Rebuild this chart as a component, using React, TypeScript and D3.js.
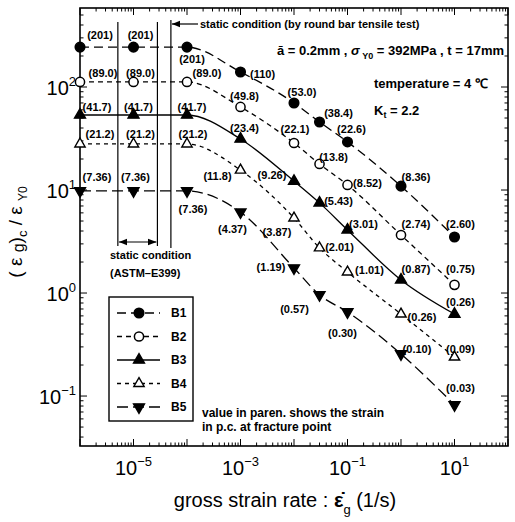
import * as d3 from "d3";
import React from "react";

// strain rates (1/s) at which each specimen series was tested
const rates = [1e-6, 1e-5, 1e-4, 1e-3, 1e-2, 3e-2, 1e-1, 1, 10];

const seriesNames = ["B1", "B2", "B3", "B4", "B5"];

// (eg)c / eY0
const b1 = [244, 244, 244, 140, 70, 45.7, 29.3, 10.9, 3.5];
const b2 = [112, 112, 112, 64, 28.6, 17.9, 11.2, 3.66, 1.2];
const b3 = [53.5, 53.5, 53.5, 31.3, 12.2, 7.5, 4.1, 1.34, 0.625];
const b4 = [28.0, 28.0, 28.0, 15.6, 5.35, 2.74, 1.6, 0.625, 0.239];
const b5 = [9.8, 9.8, 9.8, 6.1, 1.75, 0.96, 0.655, 0.256, 0.082];

// strain in p.c. at fracture point (value in paren.)
const b1Strain = ["201", "201", "201", "110", "53.0", "38.4", "22.6", "8.36", "2.60"];
const b2Strain = ["89.0", "89.0", "89.0", "49.8", "22.1", "13.8", "8.52", "2.74", "0.75"];
const b3Strain = ["41.7", "41.7", "41.7", "23.4", "9.26", "5.43", "3.01", "0.87", "0.26"];
const b4Strain = ["21.2", "21.2", "21.2", "11.8", "3.87", "2.01", "1.01", "0.26", "0.09"];
const b5Strain = ["7.36", "7.36", "7.36", "4.37", "1.19", "0.57", "0.30", "0.10", "0.03"];

const xTickExps = [-5, -3, -1, 1];
const yTickExps = [-1, 0, 1, 2];

// static condition markers (strain rate)
const astmRange = [5.1e-6, 2.8e-5];
const roundBarRate = 5e-5;

const values = [b1, b2, b3, b4, b5];
const strains = [b1Strain, b2Strain, b3Strain, b4Strain, b5Strain];

// layout: label nudges in px relative to the marker
const labelOffsets = [
  [[20, -12], [7, -12], [5, 12], [22, 2], [8, -11], [19, -9], [4, -13], [15, -9], [6, -13]],
  [[23, -9], [7, -9], [20, -9], [4, -11], [1, -14], [14, -7], [20, -2], [15, -11], [6, -16]],
  [[17, -8], [5, -8], [5, -8], [4, -11], [-22, -6], [19, -2], [16, -6], [15, -11], [6, -12]],
  [[20, -10], [7, -10], [6, -10], [-23, 6], [-17, 14], [20, -1], [22, -2], [21, 3], [6, -8]],
  [[17, -14], [2, -14], [6, 18], [-8, 17], [-23, -1], [-25, 14], [-5, 21], [16, -5], [6, -17]],
];

const styles = [
  { dash: "9,5", shape: "circle", filled: true },
  { dash: "5,4", shape: "circle", filled: false },
  { dash: "", shape: "up", filled: true },
  { dash: "4,4", shape: "up", filled: false },
  { dash: "11,5", shape: "down", filled: true },
];

const left = 80, right = 508, top = 8, bottom = 446;
const font = "'Liberation Sans', Arial, Helvetica, sans-serif";

function Marker({ x, y, st }: { x: number; y: number; st: any }) {
  const fill = st.filled ? "black" : "white";
  if (st.shape === "circle") {
    return <circle cx={x} cy={y} r={st.filled ? 4.8 : 4.6} fill={fill} stroke="black" strokeWidth={1.5} />;
  }
  const path = d3.symbol(d3.symbolTriangle, st.filled ? 52 : 46)() as string;
  const rot = st.shape === "down" ? " rotate(180)" : "";
  return <path d={path} transform={`translate(${x},${y})${rot}`} fill={fill} stroke="black" strokeWidth={1.4} />;
}

export default function App() {
  const x = d3.scaleLog().domain([1e-6, 1e2]).range([left, right]);
  const y = d3.scaleLog().domain([Math.pow(10, -1.485), Math.pow(10, 2.767)]).range([bottom, top]);

  const isMajor = (t: number) => Math.abs(Math.log10(t) - Math.round(Math.log10(t))) < 1e-6;

  const line = d3.line<[number, number]>()
    .x(d => d[0])
    .y(d => d[1])
    .curve(d3.curveMonotoneX);

  const xa = x(astmRange[0]), xb = x(astmRange[1]), xr = x(roundBarRate);

  return (
    <svg width={515} height={522} style={{ position: "absolute", left: 0, top: 0, background: "white" }} fontFamily={font}>
      <defs>
        <marker id="arr" viewBox="0 0 10 10" refX="10" refY="5" markerWidth="7" markerHeight="7" orient="auto-start-reverse">
          <path d="M0,1 L10,5 L0,9 z" fill="black" />
        </marker>
      </defs>

      {/* ticks on all four sides, pointing in */}
      {x.ticks().map((t, i) => {
        const len = isMajor(t) ? 7 : 3.5;
        return (
          <g key={"xt" + i} stroke="black" strokeWidth={1}>
            <line x1={x(t)} x2={x(t)} y1={bottom} y2={bottom - len} />
            <line x1={x(t)} x2={x(t)} y1={top} y2={top + len} />
          </g>
        );
      })}
      {y.ticks().map((t, i) => {
        const len = isMajor(t) ? 7 : 3.5;
        return (
          <g key={"yt" + i} stroke="black" strokeWidth={1}>
            <line x1={left} x2={left + len} y1={y(t)} y2={y(t)} />
            <line x1={right} x2={right - len} y1={y(t)} y2={y(t)} />
          </g>
        );
      })}
      <rect x={left} y={top} width={right - left} height={bottom - top} fill="none" stroke="black" strokeWidth={1.6} />

      {xTickExps.map(e => (
        <text key={"xl" + e} x={x(Math.pow(10, e))} y={475} textAnchor="middle" fontSize={20}>
          10<tspan dy={-9} fontSize={13}>{e < 0 ? "\u2212" + -e : e}</tspan>
        </text>
      ))}
      {yTickExps.map(e => (
        <text key={"yl" + e} x={76} y={y(Math.pow(10, e)) + 8} textAnchor="end" fontSize={20}>
          10<tspan dy={-9} fontSize={13}>{e < 0 ? "\u2212" + -e : e}</tspan>
        </text>
      ))}

      {/* axis titles */}
      <text x={285} y={507} textAnchor="middle" fontSize={20}>
        gross strain rate :  <tspan fontWeight="bold">{"\u03B5\u0307"}</tspan>
        <tspan dy={7} fontSize={13}>g</tspan>
        <tspan dy={-7}>{"  (1/s)"}</tspan>
      </text>
      <text transform="translate(22,232) rotate(-90)" textAnchor="middle" fontSize={19}>
        ( {"\u03B5"} <tspan dy={2} fontSize={16}>g</tspan>
        <tspan dy={-2}>)</tspan>
        <tspan dy={5} fontSize={13}>c</tspan>
        <tspan dy={-5}>{" / \u03B5 "}</tspan>
        <tspan dy={5} fontSize={12}>Y0</tspan>
      </text>

      {/* static condition annotations */}
      <g stroke="black" strokeWidth={1.2}>
        <line x1={xa} x2={xa} y1={22} y2={246} />
        <line x1={xb} x2={xb} y1={22} y2={246} />
        <line x1={xr} x2={xr} y1={20} y2={248} />
        <line x1={xa + 1} x2={xb - 1} y1={242} y2={242} markerStart="url(#arr)" markerEnd="url(#arr)" />
        <line x1={198} x2={xr + 1} y1={24} y2={24} markerEnd="url(#arr)" />
      </g>
      <text x={200} y={28} fontSize={11} fontWeight="bold">static condition (by round bar tensile test)</text>
      <text x={110} y={259} fontSize={11} fontWeight="bold">static condition</text>
      <text x={110} y={277} fontSize={11} fontWeight="bold">(ASTM{"\u2013"}E399)</text>

      {/* conditions */}
      <text x={504} y={55} fontSize={13} fontWeight="bold" textAnchor="end">
        {"\u0101 = 0.2mm , "}<tspan fontStyle="italic">{"\u03C3"}</tspan>
        <tspan dy={4} fontSize={9}> Y0</tspan>
        <tspan dy={-4}>{" = 392MPa , t = 17mm"}</tspan>
      </text>
      <text x={374} y={88} fontSize={13} fontWeight="bold">temperature = 4 {"\u2103"}</text>
      <text x={374} y={115} fontSize={13} fontWeight="bold">
        K<tspan dy={3} fontSize={9}>t</tspan><tspan dy={-3}>{" = 2.2"}</tspan>
      </text>

      {/* series */}
      {values.map((vals, si) => {
        const st = styles[si];
        const pts = vals.map((v, i) => [x(rates[i]), y(v)] as [number, number]);
        return (
          <g key={"s" + si}>
            <path d={line(pts) as string} fill="none" stroke="black" strokeWidth={1.3} strokeDasharray={st.dash} />
            {pts.map((p, i) => (
              <Marker key={i} x={p[0]} y={p[1]} st={st} />
            ))}
            {pts.map((p, i) => (
              <text key={"l" + i} x={p[0] + labelOffsets[si][i][0]} y={p[1] + labelOffsets[si][i][1]}
                textAnchor="middle" dominantBaseline="central" fontSize={11} fontWeight="bold">
                ({strains[si][i]})
              </text>
            ))}
          </g>
        );
      })}

      {/* legend */}
      <rect x={109} y={297} width={84} height={124} fill="white" stroke="black" strokeWidth={1.4} />
      {seriesNames.map((name, i) => {
        const ly = 313 + i * 23.5;
        return (
          <g key={"lg" + i}>
            <line x1={117} x2={160} y1={ly} y2={ly} stroke="black" strokeWidth={1.3} strokeDasharray={styles[i].dash} />
            <Marker x={139} y={ly} st={styles[i]} />
            <text x={171} y={ly} dominantBaseline="central" fontSize={12} fontWeight="bold">{name}</text>
          </g>
        );
      })}

      <text x={202} y={417} fontSize={12} fontWeight="bold">value in paren. shows the strain</text>
      <text x={202} y={431} fontSize={12} fontWeight="bold">in p.c. at fracture point</text>
    </svg>
  );
}
